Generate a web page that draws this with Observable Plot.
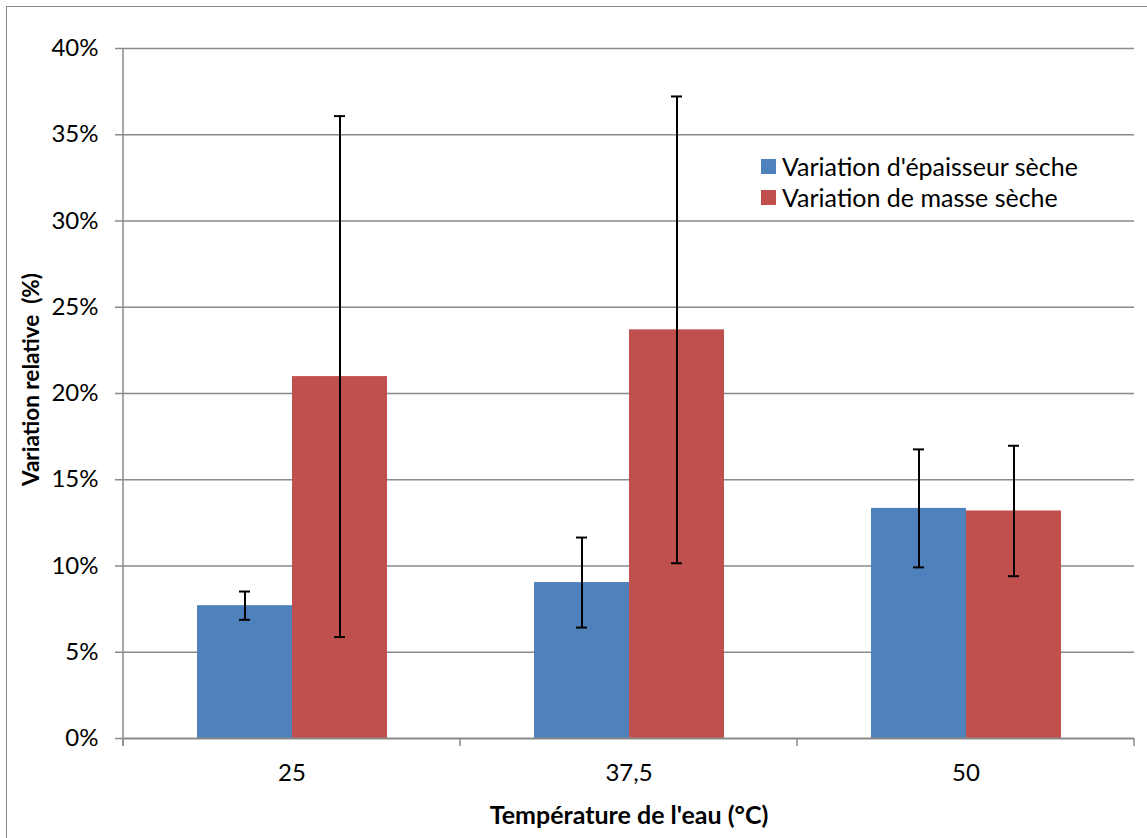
<!DOCTYPE html>
<html>
<head>
<meta charset="utf-8">
<script src="https://cdn.jsdelivr.net/npm/d3@7"></script>
<script src="https://cdn.jsdelivr.net/npm/@observablehq/plot@0.6"></script>
<style>
  html, body { margin: 0; padding: 0; background: #fff; }
  #wrap { position: relative; width: 1147px; height: 838px; overflow: hidden; font-family: Lato, sans-serif; }
  #chart svg text { white-space: pre; }
  #border { position: absolute; left: 6px; top: 6px; width: 1160px; height: 850px; border: 1.5px solid #888; box-sizing: border-box; pointer-events: none; }
  #legend { position: absolute; left: 761px; top: 151px; font-size: 25px; color: #000; line-height: 31px; }
  #legend .item { display: flex; align-items: center; white-space: nowrap; }
  #legend .sw { width: 15px; height: 15px; margin-right: 6px; display: inline-block; }
</style>
</head>
<body>
<div id="wrap"><div id="chart"></div><div id="border"></div><div id="legend"></div></div>
<script>
// ---- data ----
const temps = ["25", "37,5", "50"];
const series = ["Variation d'épaisseur sèche", "Variation de masse sèche"];
const epaisseur = [7.70, 9.04, 13.34];      // %
const epaisseurErr = [0.82, 2.61, 3.42];    // %
const masse = [20.98, 23.69, 13.19];        // %
const masseErr = [15.10, 13.53, 3.78];      // %
const yTicks = [0, 0.05, 0.10, 0.15, 0.20, 0.25, 0.30, 0.35, 0.40];
const colors = ["#4F81BD", "#C0504D"];
const xTitle = "Température de l'eau (°C)";
const yTitle = "Variation relative  (%)";

const rows = [];
temps.forEach((t, i) => {
  rows.push({temp: t, series: series[0], value: epaisseur[i] / 100, err: epaisseurErr[i] / 100});
  rows.push({temp: t, series: series[1], value: masse[i] / 100, err: masseErr[i] / 100});
});

const W = 1147, H = 838;
const capInset = 42;

const chart = Plot.plot({
  width: W,
  height: H,
  marginLeft: 122,
  marginRight: 13,
  marginTop: 48,
  marginBottom: 100,
  style: {fontFamily: "Lato, sans-serif", fontSize: "24px", color: "#000", background: "transparent", overflow: "visible"},
  fx: {domain: temps, padding: 0, label: null},
  x: {domain: series, paddingInner: 0, paddingOuter: 0.76, axis: null},
  y: {domain: [0, 0.4], axis: null},
  color: {domain: series, range: colors},
  marks: [
    Plot.gridY(yTicks.filter(d => d > 0), {stroke: "#8a8a8a", strokeOpacity: 1, strokeWidth: 1.4}),
    Plot.barY(rows, {fx: "temp", x: "series", y: "value", fill: "series"}),
    Plot.ruleX(rows, {fx: "temp", x: "series", y1: d => d.value - d.err, y2: d => d.value + d.err, stroke: "#000", strokeWidth: 2}),
    Plot.tickY(rows, {fx: "temp", x: "series", y: d => d.value - d.err, stroke: "#000", strokeWidth: 2, insetLeft: capInset, insetRight: capInset}),
    Plot.tickY(rows, {fx: "temp", x: "series", y: d => d.value + d.err, stroke: "#000", strokeWidth: 2, insetLeft: capInset, insetRight: capInset}),
    Plot.ruleY([0], {stroke: "#8a8a8a", strokeWidth: 2}),
    Plot.axisY({ticks: yTicks, tickFormat: d => Math.round(d * 100) + "%", tickSize: 8, tickPadding: 17, stroke: "#8a8a8a", strokeWidth: 1.5, label: null, fontSize: 24}),
    Plot.axisFx({anchor: "bottom", tickSize: 0, tickPadding: 25, label: null, fontSize: 24}),
    Plot.text([xTitle], {x: null, y: null, text: d => d, frameAnchor: "bottom", lineAnchor: "middle", dy: 77, facet: "super", fontWeight: "bold", fontSize: 25}),
    Plot.text([yTitle], {x: null, y: null, text: d => d, frameAnchor: "left", textAnchor: "middle", lineAnchor: "middle", dx: -92, dy: -14, rotate: -90, facet: "super", fontWeight: "bold", fontSize: 22.5}),
    Plot.text([0], {x: null, y: null, text: null, facet: "super", render: (I, scales) => {
      const fx = scales.fx, y = scales.y;
      const bw = fx.bandwidth();
      const xs = temps.map(t => fx(t)).concat([fx(temps[temps.length - 1]) + bw]);
      const g = d3.create("svg:g").attr("stroke", "#8a8a8a").attr("stroke-width", 1.5);
      xs.forEach(x => g.append("line").attr("x1", x).attr("x2", x).attr("y1", y(0)).attr("y2", y(0) + 8));
      g.append("line").attr("x1", xs[0]).attr("x2", xs[0]).attr("y1", y(0.4)).attr("y2", y(0) + 8);
      return g.node();
    }})
  ]
});
document.getElementById("chart").appendChild(chart);

const legend = document.getElementById("legend");
series.forEach((s, i) => {
  const item = document.createElement("div");
  item.className = "item";
  const sw = document.createElement("span");
  sw.className = "sw";
  sw.style.background = colors[i];
  const label = document.createElement("span");
  label.textContent = s;
  item.appendChild(sw);
  item.appendChild(label);
  legend.appendChild(item);
});
</script>
</body>
</html>
